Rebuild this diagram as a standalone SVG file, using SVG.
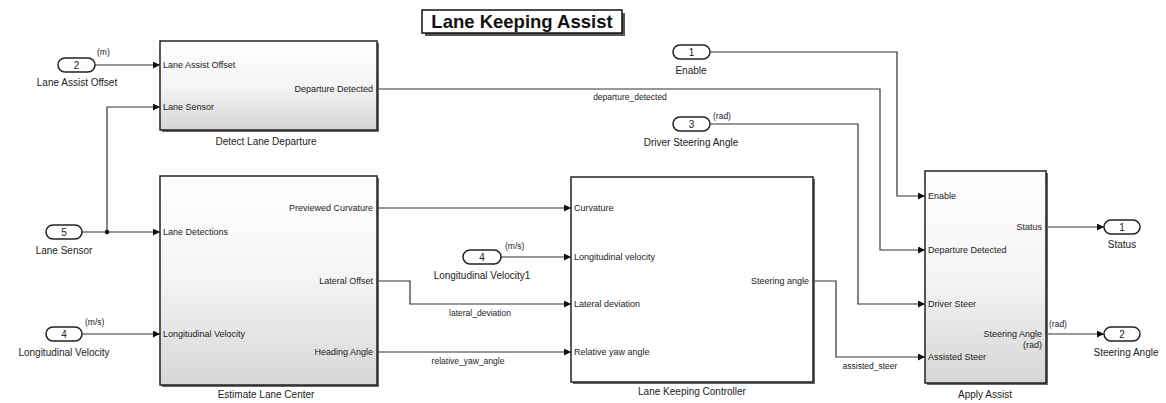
<svg xmlns="http://www.w3.org/2000/svg" width="1166" height="403" viewBox="0 0 1166 403">
<style>
text{font-family:"Liberation Sans",Arial,sans-serif;fill:#222}
.lbl{font-size:10px;text-anchor:middle}
.pin{font-size:9px}
.pout{font-size:9px;text-anchor:end}
.sig{font-size:8.5px;text-anchor:middle}
.unit{font-size:8.5px}
.blk{stroke:#222;stroke-width:1.5}
.sh{fill:#666}
.port{fill:#fff;stroke:#222;stroke-width:1.5}
.num{font-size:10px;text-anchor:middle}
.wire{fill:none;stroke:#333;stroke-width:1.2}
</style>
<defs>
<linearGradient id="g" x1="0" y1="0" x2="0" y2="1">
<stop offset="0" stop-color="#ffffff"/>
<stop offset="0.5" stop-color="#f4f4f4"/>
<stop offset="1" stop-color="#d6d6d6"/>
</linearGradient>
<marker id="a" markerWidth="8" markerHeight="8" refX="7" refY="3.5" orient="auto" markerUnits="userSpaceOnUse">
<path d="M0,0 L7,3.5 L0,7 Z" fill="#111"/>
</marker>
</defs>
<rect width="1166" height="403" fill="#fff"/>

<g id="title">
<rect x="425" y="13" width="200" height="23" fill="#555"/>
<rect x="422" y="10" width="200" height="23" fill="#fff" stroke="#111" stroke-width="1.5"/>
<text x="522" y="27.5" font-size="18.5" font-weight="bold" text-anchor="middle" style="fill:#111">Lane Keeping Assist</text>
</g>

<g id="connectors">
<path class="wire" d="M95,65 H160" marker-end="url(#a)"/>
<path class="wire" d="M82,232 H160" marker-end="url(#a)"/>
<path class="wire" d="M107,232 V107 H160" marker-end="url(#a)"/>
<circle cx="107" cy="232" r="2.2" fill="#111"/>
<path class="wire" d="M82,334 H160" marker-end="url(#a)"/>
<path class="wire" d="M377,208 H571" marker-end="url(#a)"/>
<path class="wire" d="M501,257 H571" marker-end="url(#a)"/>
<path class="wire" d="M377,281 H410 V304 H571" marker-end="url(#a)"/>
<path class="wire" d="M377,352 H571" marker-end="url(#a)"/>
<path class="wire" d="M377,89 H880 V250 H925" marker-end="url(#a)"/>
<path class="wire" d="M710,52 H897 V196 H925" marker-end="url(#a)"/>
<path class="wire" d="M710,124 H858 V304 H925" marker-end="url(#a)"/>
<path class="wire" d="M813,281 H836 V357 H925" marker-end="url(#a)"/>
<path class="wire" d="M1046,227 H1104" marker-end="url(#a)"/>
<path class="wire" d="M1046,334 H1104" marker-end="url(#a)"/>
<text class="sig" x="630" y="100">departure_detected</text>
<text class="sig" x="480" y="316">lateral_deviation</text>
<text class="sig" x="468" y="364">relative_yaw_angle</text>
<text class="sig" x="870" y="369">assisted_steer</text>
<text class="unit" x="97" y="55">(m)</text>
<text class="unit" x="85" y="325">(m/s)</text>
<text class="unit" x="505" y="249">(m/s)</text>
<text class="unit" x="713" y="119">(rad)</text>
<text class="unit" x="1049" y="327">(rad)</text>
</g>

<g id="in_lane_assist_offset">
<rect class="port" x="58" y="58" width="37" height="14" rx="7"/>
<text class="num" x="76.5" y="69">2</text>
<text class="lbl" x="77" y="86">Lane Assist Offset</text>
</g>
<g id="in_lane_sensor">
<rect class="port" x="46" y="225" width="36" height="14" rx="7"/>
<text class="num" x="64" y="236">5</text>
<text class="lbl" x="64" y="254">Lane Sensor</text>
</g>
<g id="in_long_vel">
<rect class="port" x="46" y="327" width="36" height="14" rx="7"/>
<text class="num" x="64" y="338">4</text>
<text class="lbl" x="64" y="356">Longitudinal Velocity</text>
</g>
<g id="in_long_vel1">
<rect class="port" x="463" y="250" width="38" height="14" rx="7"/>
<text class="num" x="482" y="261">4</text>
<text class="lbl" x="482" y="279">Longitudinal Velocity1</text>
</g>
<g id="in_enable">
<rect class="port" x="673" y="45" width="37" height="14" rx="7"/>
<text class="num" x="691.5" y="56">1</text>
<text class="lbl" x="691" y="74">Enable</text>
</g>
<g id="in_driver_steer">
<rect class="port" x="673" y="117" width="37" height="14" rx="7"/>
<text class="num" x="691.5" y="128">3</text>
<text class="lbl" x="691" y="146">Driver Steering Angle</text>
</g>
<g id="out_status">
<rect class="port" x="1104" y="220" width="36" height="14" rx="7"/>
<text class="num" x="1122" y="231">1</text>
<text class="lbl" x="1122" y="248">Status</text>
</g>
<g id="out_steering">
<rect class="port" x="1104" y="327" width="36" height="14" rx="7"/>
<text class="num" x="1122" y="338">2</text>
<text class="lbl" x="1126" y="356">Steering Angle</text>
</g>

<g id="detect_lane_departure">
<rect class="sh" x="162" y="43" width="217" height="89"/>
<rect class="blk" x="160" y="41" width="217" height="89" fill="url(#g)"/>
<text class="pin" x="163" y="68">Lane Assist Offset</text>
<text class="pin" x="163" y="110">Lane Sensor</text>
<text class="pout" x="373" y="92">Departure Detected</text>
<text class="lbl" x="266" y="145">Detect Lane Departure</text>
</g>

<g id="estimate_lane_center">
<rect class="sh" x="162" y="178" width="217" height="209"/>
<rect class="blk" x="160" y="176" width="217" height="209" fill="url(#g)"/>
<text class="pin" x="163" y="235">Lane Detections</text>
<text class="pin" x="163" y="337">Longitudinal Velocity</text>
<text class="pout" x="373" y="211">Previewed Curvature</text>
<text class="pout" x="373" y="284">Lateral Offset</text>
<text class="pout" x="373" y="355">Heading Angle</text>
<text class="lbl" x="266" y="398">Estimate Lane Center</text>
</g>

<g id="lane_keeping_controller">
<rect class="sh" x="573" y="179" width="242" height="205"/>
<rect class="blk" x="571" y="177" width="242" height="205" fill="#fff"/>
<text class="pin" x="574" y="211">Curvature</text>
<text class="pin" x="574" y="260">Longitudinal velocity</text>
<text class="pin" x="574" y="307">Lateral deviation</text>
<text class="pin" x="574" y="355">Relative yaw angle</text>
<text class="pout" x="809" y="284">Steering angle</text>
<text class="lbl" x="692" y="395">Lane Keeping Controller</text>
</g>

<g id="apply_assist">
<rect class="sh" x="927" y="173" width="121" height="212"/>
<rect class="blk" x="925" y="171" width="121" height="212" fill="url(#g)"/>
<text class="pin" x="928" y="199">Enable</text>
<text class="pin" x="928" y="253">Departure Detected</text>
<text class="pin" x="928" y="307">Driver Steer</text>
<text class="pin" x="928" y="360">Assisted Steer</text>
<text class="pout" x="1042" y="230">Status</text>
<text class="pout" x="1042" y="337">Steering Angle</text>
<text class="pout" x="1042" y="348">(rad)</text>
<text class="lbl" x="985" y="398">Apply Assist</text>
</g>
</svg>
